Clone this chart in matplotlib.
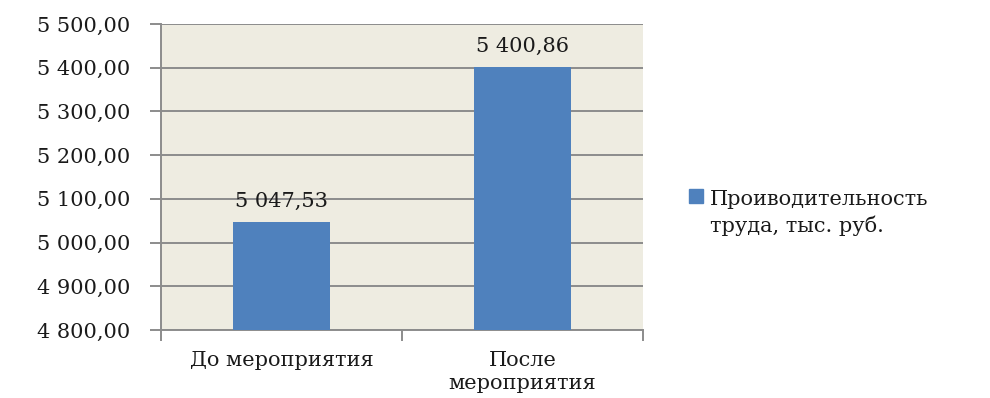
import matplotlib
matplotlib.use("Agg")
import matplotlib.pyplot as plt
from matplotlib.patches import Rectangle
from matplotlib.ticker import FuncFormatter

categories = ["До мероприятия", "После\nмероприятия"]
values = [5047.53, 5400.86]
series_name = "Проиводительность\nтруда, тыс. руб."
y_ticks = [4800, 4900, 5000, 5100, 5200, 5300, 5400, 5500]

BAR = "#4F81BD"
PLOT_BG = "#EEECE1"
GRID = "#8C8C8C"


def ru_number(v, _pos=None):
    # "5 400,86" style: space for thousands, comma for decimals
    s = f"{v:,.2f}"
    return s.replace(",", " ").replace(".", ",")


plt.rcParams["font.family"] = ["DejaVu Serif"]
plt.rcParams["font.size"] = 15

fig = plt.figure(figsize=(9.9, 3.98), dpi=100)
ax = fig.add_axes([161 / 990, 1 - 330 / 398, (643 - 161) / 990, (330 - 24) / 398])
ax.set_facecolor(PLOT_BG)

x = list(range(len(categories)))
bars = ax.bar(x, values, width=0.4, color=BAR, zorder=3)

ax.set_xlim(-0.5, len(categories) - 0.5)
ax.set_ylim(y_ticks[0], y_ticks[-1])
ax.set_yticks(y_ticks)
ax.yaxis.set_major_formatter(FuncFormatter(ru_number))
ax.yaxis.grid(True, color=GRID, linewidth=1.4, zorder=1)

ax.set_xticks(x)
ax.set_xticklabels(categories, linespacing=1.28)
ax.set_xticks([i - 0.5 for i in range(len(categories) + 1)], minor=True)
ax.tick_params(axis="x", which="major", length=0, pad=15, colors="#1a1a1a")
ax.tick_params(axis="x", which="minor", length=8, width=1.4, color=GRID)
ax.tick_params(axis="y", length=8, width=1.4, color=GRID, pad=14, labelcolor="#1a1a1a")

for side in ("top", "right"):
    ax.spines[side].set_visible(False)
for side in ("left", "bottom"):
    ax.spines[side].set_color(GRID)
    ax.spines[side].set_linewidth(1.4)

for b, v in zip(bars, values):
    ax.annotate(ru_number(v), (b.get_x() + b.get_width() / 2, v),
                xytext=(0, 8), textcoords="offset points",
                ha="center", va="bottom", color="#1a1a1a")

# legend: square marker beside the first line of a two-line label
fig.patches.append(Rectangle((689 / 990, 1 - 203 / 398), 14 / 990, 14 / 398,
                             transform=fig.transFigure, color=BAR))
fig.text(710 / 990, 1 - 190 / 398, series_name, ha="left", va="top",
         linespacing=1.42, color="#1a1a1a")

fig.savefig("out.png", dpi=100, facecolor="white")
